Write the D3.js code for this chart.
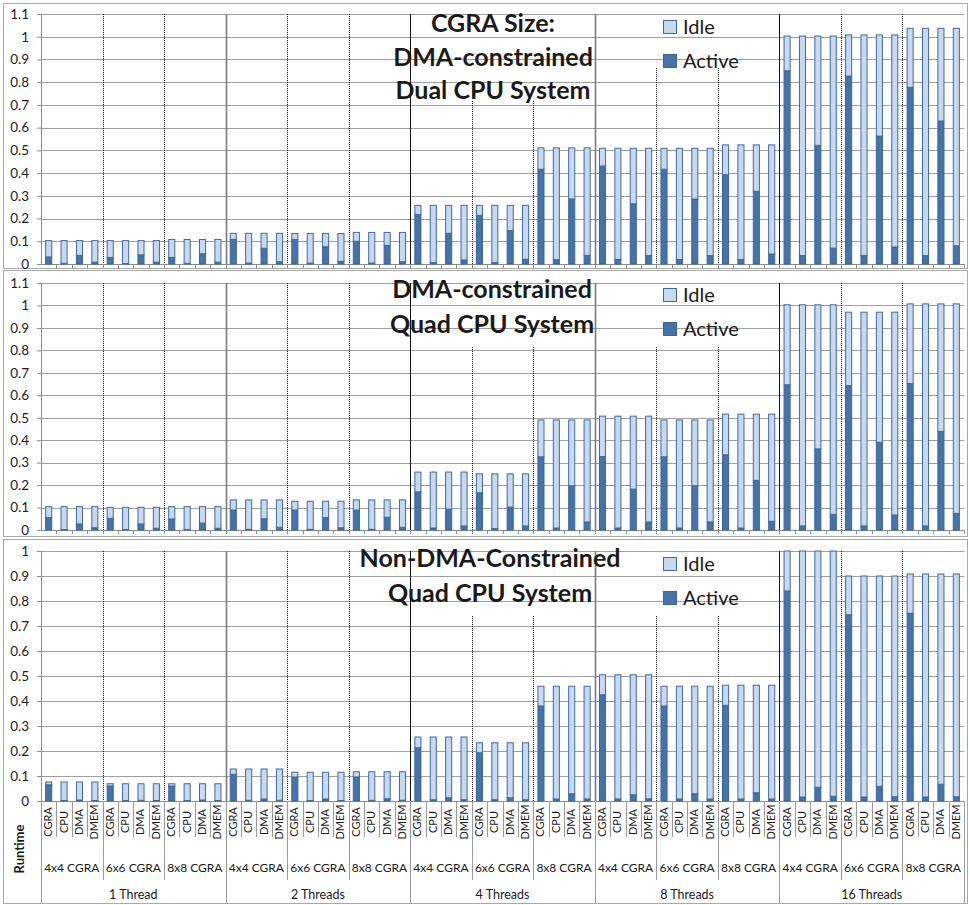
<!DOCTYPE html>
<html><head><meta charset="utf-8">
<script src="https://cdn.jsdelivr.net/npm/d3@7"></script>
<style>
html,body{margin:0;padding:0;background:#fff}
svg{display:block}
text{font-family:Lato,"Open Sans",sans-serif;fill:#1a1a1a}
</style></head><body>
<svg id="chart" width="970" height="905"></svg>
<script>
// ---- categories ----
const components = ["CGRA", "CPU", "DMA", "DMEM"];
const cgraSizes = ["4x4 CGRA", "6x6 CGRA", "8x8 CGRA"];
const threadCounts = ["1 Thread", "2 Threads", "4 Threads", "8 Threads", "16 Threads"];
const seriesNames = ["Idle", "Active"];

// ---- tick labels ----
const ticksTo11 = [0, 0.1, 0.2, 0.3, 0.4, 0.5, 0.6, 0.7, 0.8, 0.9, 1, 1.1];
const ticksTo10 = [0, 0.1, 0.2, 0.3, 0.4, 0.5, 0.6, 0.7, 0.8, 0.9, 1];

// ---- runtime per (thread count, CGRA size); shared by the four components ----
const dualRuntime = [0.103, 0.103, 0.108, 0.135, 0.134, 0.139, 0.258, 0.258, 0.511,
                     0.509, 0.509, 0.524, 1.003, 1.008, 1.037];
const quadRuntime = [0.104, 0.101, 0.104, 0.134, 0.128, 0.134, 0.258, 0.250, 0.490,
                     0.507, 0.490, 0.516, 1.003, 0.970, 1.007];
const nonDmaRuntime = [0.076, 0.069, 0.069, 0.128, 0.115, 0.117, 0.256, 0.233, 0.459,
                       0.505, 0.459, 0.463, 1.000, 0.900, 0.908];

// ---- active share of each bar (CGRA, CPU, DMA, DMEM per group) ----
const dualActive = [
  0.031, 0.003, 0.038, 0.008,  0.029, 0.002, 0.040, 0.008,  0.029, 0.003, 0.045, 0.008,
  0.108, 0.004, 0.069, 0.010,  0.108, 0.004, 0.076, 0.012,  0.100, 0.004, 0.082, 0.010,
  0.218, 0.006, 0.135, 0.018,  0.214, 0.006, 0.147, 0.021,  0.417, 0.019, 0.286, 0.038,
  0.431, 0.020, 0.265, 0.037,  0.417, 0.020, 0.286, 0.037,  0.393, 0.020, 0.320, 0.044,
  0.850, 0.037, 0.522, 0.070,  0.827, 0.037, 0.563, 0.075,  0.777, 0.037, 0.629, 0.080
];
const quadActive = [
  0.055, 0.002, 0.027, 0.010,  0.052, 0.002, 0.027, 0.008,  0.049, 0.002, 0.031, 0.008,
  0.089, 0.003, 0.050, 0.012,  0.089, 0.003, 0.055, 0.010,  0.089, 0.003, 0.057, 0.012,
  0.170, 0.009, 0.093, 0.018,  0.166, 0.006, 0.102, 0.018,  0.326, 0.009, 0.197, 0.036,
  0.327, 0.009, 0.182, 0.036,  0.326, 0.009, 0.197, 0.036,  0.335, 0.009, 0.221, 0.039,
  0.647, 0.018, 0.361, 0.070,  0.643, 0.018, 0.391, 0.067,  0.652, 0.018, 0.439, 0.074
];
const nonDmaActive = [
  0.065, 0.002, 0.004, 0.002,  0.060, 0.002, 0.003, 0.002,  0.060, 0.002, 0.004, 0.002,
  0.107, 0.003, 0.008, 0.003,  0.096, 0.002, 0.008, 0.002,  0.096, 0.003, 0.009, 0.003,
  0.213, 0.005, 0.013, 0.005,  0.193, 0.005, 0.013, 0.005,  0.380, 0.008, 0.029, 0.008,
  0.425, 0.008, 0.025, 0.009,  0.380, 0.008, 0.029, 0.008,  0.383, 0.008, 0.033, 0.008,
  0.840, 0.016, 0.055, 0.019,  0.745, 0.016, 0.059, 0.017,  0.751, 0.016, 0.067, 0.017
];

// ---- panel descriptions ----
const panels = [
  { title: ["CGRA Size:", "DMA-constrained", "Dual CPU System"], runtime: dualRuntime, active: dualActive,
    ticks: ticksTo11, box: [3, 3, 967, 268], plot: [14, 264], titleX: 493, titleY: 32, titleGap: 33.5,
    legendY: 20, midDividerTop: [0.717, 0.862] },
  { title: ["DMA-constrained", "Quad CPU System"], runtime: quadRuntime, active: quadActive,
    ticks: ticksTo11, box: [3, 270, 967, 536], plot: [283, 530], titleX: 492, titleY: 298, titleGap: 35,
    legendY: 288, midDividerTop: [0.815, 0.815] },
  { title: ["Non-DMA-Constrained", "Quad CPU System"], runtime: nonDmaRuntime, active: nonDmaActive,
    ticks: ticksTo10, box: [3, 539, 967, 903], plot: [551, 801], titleX: 490, titleY: 567, titleGap: 35,
    legendY: 557, midDividerTop: [0.74, 0.74] }
];

const colors = { Active: "#4673a9", Idle: "#c6d9f0" };
const strokes = { Active: "#3a6597", Idle: "#41699d" };

const svg = d3.select("#chart");
const keys = [];
threadCounts.forEach(t => cgraSizes.forEach(s => components.forEach(c => keys.push(`${t}|${s}|${c}`))));

const x = d3.scaleBand().domain(keys).range([41, 964]).paddingInner(0.54).paddingOuter(0.27);
const slotEdge = i => x.range()[0] + i * x.step();
const slotCenter = i => x(keys[i]) + x.bandwidth() / 2;

panels.forEach((p, pi) => {
  const [bx0, by0, bx1, by1] = p.box;
  const g = svg.append("g");
  g.append("rect").attr("x", bx0 + 0.5).attr("y", by0 + 0.5)
    .attr("width", bx1 - bx0).attr("height", by1 - by0)
    .attr("fill", "none").attr("stroke", "#a9a9a9").attr("stroke-width", 1);

  const yMax = p.ticks[p.ticks.length - 1];
  const y = d3.scaleLinear().domain([0, yMax]).range([p.plot[1], p.plot[0]]);

  // horizontal gridlines
  g.append("g").selectAll("line").data(p.ticks.filter(t => t > 0)).join("line")
    .attr("x1", x.range()[0]).attr("x2", x.range()[1])
    .attr("y1", d => Math.round(y(d)) + 0.5).attr("y2", d => Math.round(y(d)) + 0.5)
    .attr("stroke", "#9e9e9e").attr("stroke-width", 1);

  // y axis
  const yAxis = d3.axisLeft(y).tickValues(p.ticks).tickSize(4).tickPadding(8)
    .tickFormat(d3.format("~g"));
  const ya = g.append("g").attr("transform", `translate(${x.range()[0]},0)`).call(yAxis);
  ya.select(".domain").attr("stroke", "#8c8c8c");
  ya.selectAll(".tick line").attr("stroke", "#8c8c8c");
  ya.selectAll(".tick text").attr("font-size", 13.5).attr("font-family", "Lato, sans-serif").attr("fill", "#1a1a1a");

  // group dividers
  const dividerDefs = [];
  for (let t = 0; t < threadCounts.length; t++) {
    for (let s = 1; s < cgraSizes.length; s++) {
      let top = yMax;
      if (t === 2) top = p.midDividerTop[0];
      if (t === 3) top = p.midDividerTop[1];
      dividerDefs.push({ i: t * 12 + s * 4, top, kind: "size" });
    }
    if (t > 0) dividerDefs.push({ i: t * 12, top: yMax, kind: t % 2 ? "threadGray" : "threadBlack" });
  }
  g.append("g").selectAll("line").data(dividerDefs).join("line")
    .attr("x1", d => Math.round(slotEdge(d.i)) + 0.5).attr("x2", d => Math.round(slotEdge(d.i)) + 0.5)
    .attr("y1", d => y(d.top)).attr("y2", y(0))
    .attr("stroke", d => d.kind === "threadGray" ? "#7a7a7a" : "#111")
    .attr("stroke-width", d => d.kind === "threadGray" ? 1.6 : 1)
    .attr("stroke-dasharray", d => d.kind === "size" ? "1,1" : null);

  // x axis line + small ticks
  g.append("line").attr("x1", x.range()[0]).attr("x2", x.range()[1])
    .attr("y1", Math.round(y(0)) + 0.5).attr("y2", Math.round(y(0)) + 0.5)
    .attr("stroke", "#8c8c8c");
  if (pi < 2) {
    g.append("g").selectAll("line").data(d3.range(1, keys.length + 1)).join("line")
      .attr("x1", i => Math.round(slotEdge(i)) + 0.5).attr("x2", i => Math.round(slotEdge(i)) + 0.5)
      .attr("y1", y(0)).attr("y2", y(0) + 4).attr("stroke", "#8c8c8c");
  }

  // stacked bars
  const rows = keys.map((k, i) => {
    const total = p.runtime[Math.floor(i / 4)];
    return { key: k, Active: p.active[i], Idle: total - p.active[i] };
  });
  const stack = d3.stack().keys(["Active", "Idle"])(rows);
  g.append("g").selectAll("g").data(stack).join("g")
    .attr("fill", d => colors[d.key]).attr("stroke", d => strokes[d.key]).attr("stroke-width", 1)
    .selectAll("rect").data(d => d).join("rect")
    .attr("x", d => x(d.data.key) + 0.5)
    .attr("width", x.bandwidth() - 1)
    .attr("y", d => y(d[1]))
    .attr("height", d => Math.max(0, y(d[0]) - y(d[1])));

  // title
  g.append("g").selectAll("text").data(p.title).join("text")
    .attr("x", p.titleX).attr("y", (d, i) => p.titleY + i * p.titleGap)
    .attr("text-anchor", "middle").attr("font-size", 25).attr("font-weight", 700)
    .attr("fill", "#1a1a1a").text(d => d);

  // legend
  const lg = g.append("g").attr("transform", `translate(663,${p.legendY})`);
  seriesNames.forEach((n, i) => {
    lg.append("rect").attr("x", 0.5).attr("y", i * 34 + 0.5).attr("width", 13).attr("height", 13)
      .attr("fill", colors[n]).attr("stroke", strokes[n]);
    lg.append("text").attr("x", 20).attr("y", i * 34 + 13.5).attr("font-size", 20)
      .attr("fill", "#1e1e1e").text(n);
  });

  // multi-level category axis under the last panel
  if (pi === 2) {
    const base = y(0);
    const ca = g.append("g");
    ca.selectAll("text.comp").data(keys).join("text").attr("class", "comp")
      .attr("transform", (k, i) => `translate(${slotCenter(i) + 3.5},822) rotate(-90)`)
      .attr("text-anchor", "middle").attr("font-size", 11).text(k => k.split("|")[2]);
    const edges = d3.range(0, keys.length + 1).map(i => ({
      i, bottom: (i % 12 === 0) ? by1 : (i % 4 === 0 ? 880 : 837)
    }));
    ca.selectAll("line").data(edges).join("line")
      .attr("x1", d => Math.round(slotEdge(d.i)) + 0.5).attr("x2", d => Math.round(slotEdge(d.i)) + 0.5)
      .attr("y1", base).attr("y2", d => d.bottom).attr("stroke", "#9a9a9a");
    const sizeLabels = [];
    threadCounts.forEach((t, ti) => cgraSizes.forEach((s, si) => sizeLabels.push({ s, i: ti * 12 + si * 4 })));
    ca.selectAll("text.size").data(sizeLabels).join("text").attr("class", "size")
      .attr("x", d => (slotEdge(d.i) + slotEdge(d.i + 4)) / 2).attr("y", 872)
      .attr("text-anchor", "middle").attr("font-size", 12).text(d => d.s);
    ca.selectAll("text.thr").data(threadCounts).join("text").attr("class", "thr")
      .attr("x", (t, ti) => (slotEdge(ti * 12) + slotEdge(ti * 12 + 12)) / 2).attr("y", 899)
      .attr("text-anchor", "middle").attr("font-size", 12.5).text(t => t);
    ca.append("text").attr("transform", "translate(24,849) rotate(-90)")
      .attr("text-anchor", "middle").attr("font-size", 13).attr("font-weight", 700).text("Runtime");
  }
});
</script>
</body></html>
